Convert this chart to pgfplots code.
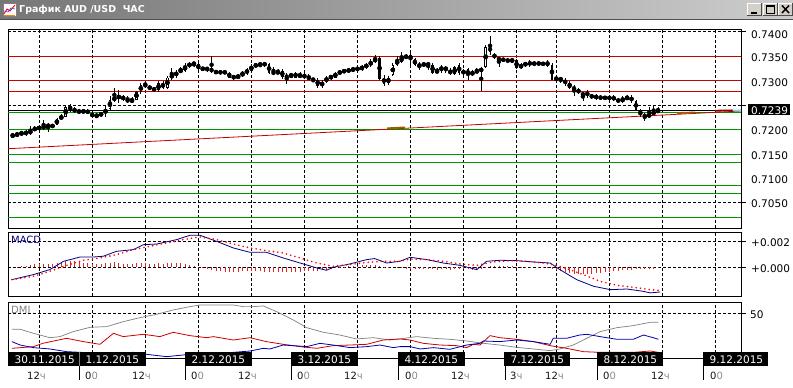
\documentclass[border=0pt]{standalone}
\usepackage{fontspec}
\setmainfont{DejaVu Sans}
\usepackage{pgfplots}
\pgfplotsset{compat=1.18}
\usepackage{pgfplotstable}

\definecolor{lvred}{RGB}{200,0,0}
\definecolor{lvgreen}{RGB}{0,150,0}
\definecolor{macdblue}{RGB}{0,0,128}
\definecolor{dmiblue}{RGB}{0,0,170}
\definecolor{dmired}{RGB}{205,0,0}
\definecolor{dmigray}{RGB}{128,128,128}
\definecolor{brn}{RGB}{160,90,0}
\definecolor{cy}{RGB}{120,220,230}
\definecolor{tbl}{RGB}{118,118,118}
\definecolor{tbr}{RGB}{205,205,205}
\definecolor{tbline}{RGB}{80,80,80}
\definecolor{btn}{RGB}{212,208,200}
\definecolor{hdark}{RGB}{20,20,20}
\definecolor{hgray}{RGB}{140,140,140}
\definecolor{histred}{RGB}{215,40,40}

% bullish candles: i O H L C
\pgfplotstableread{
i O H L C
-15 0.7186 0.7193 0.7183 0.7188
-14 0.7188 0.7194 0.7186 0.7190
-13 0.7190 0.7197 0.7188 0.7193
-11 0.7190 0.7207 0.7188 0.7199
-10 0.7199 0.7206 0.7197 0.7202
-9 0.7202 0.7207 0.7199 0.7204
-8 0.7200 0.7219 0.7199 0.7209
-6 0.7204 0.7212 0.7202 0.7210
-5 0.7210 0.7223 0.7209 0.7221
-4 0.7221 0.7231 0.7219 0.7227
-3 0.7226 0.7250 0.7225 0.7245
1 0.7236 0.7241 0.7233 0.7237
4 0.7226 0.7234 0.7223 0.7229
5 0.7229 0.7236 0.7225 0.7233
6 0.7233 0.7250 0.7226 0.7240
7 0.7241 0.7268 0.7238 0.7260
8 0.7260 0.7284 0.7257 0.7265
9 0.7265 0.7280 0.7253 0.7267
12 0.7257 0.7267 0.7253 0.7260
13 0.7261 0.7279 0.7260 0.7277
14 0.7277 0.7295 0.7272 0.7291
18 0.7280 0.7298 0.7277 0.7294
20 0.7285 0.7309 0.7283 0.7306
21 0.7306 0.7325 0.7302 0.7311
22 0.7309 0.7321 0.7306 0.7318
23 0.7318 0.7328 0.7315 0.7321
24 0.7320 0.7336 0.7318 0.7330
25 0.7330 0.7338 0.7325 0.7334
26 0.7334 0.7338 0.7328 0.7335
28 0.7323 0.7328 0.7320 0.7325
36 0.7306 0.7313 0.7304 0.7309
37 0.7309 0.7320 0.7308 0.7316
38 0.7316 0.7325 0.7311 0.7321
39 0.7320 0.7334 0.7318 0.7330
40 0.7330 0.7336 0.7325 0.7332
41 0.7332 0.7336 0.7327 0.7334
45 0.7315 0.7323 0.7313 0.7318
48 0.7308 0.7316 0.7306 0.7311
50 0.7308 0.7318 0.7304 0.7311
55 0.7291 0.7301 0.7284 0.7295
56 0.7298 0.7309 0.7294 0.7306
57 0.7306 0.7311 0.7302 0.7308
58 0.7306 0.7318 0.7304 0.7315
59 0.7315 0.7321 0.7311 0.7318
60 0.7318 0.7323 0.7315 0.7320
61 0.7320 0.7325 0.7316 0.7321
62 0.7321 0.7328 0.7318 0.7323
63 0.7323 0.7328 0.7320 0.7324
64 0.7324 0.7332 0.7320 0.7327
65 0.7327 0.7336 0.7324 0.7332
66 0.7332 0.7343 0.7328 0.7338
67 0.7338 0.7352 0.7336 0.7345
70 0.7294 0.7309 0.7291 0.7306
71 0.7311 0.7335 0.7309 0.7332
72 0.7332 0.7350 0.7330 0.7342
73 0.7338 0.7359 0.7336 0.7349
78 0.7330 0.7338 0.7328 0.7335
81 0.7316 0.7325 0.7315 0.7321
82 0.7321 0.7332 0.7315 0.7328
85 0.7313 0.7330 0.7311 0.7327
87 0.7316 0.7323 0.7311 0.7318
89 0.7311 0.7321 0.7309 0.7318
91 0.7318 0.7328 0.7279 0.7325
92 0.7327 0.7372 0.7325 0.7369
98 0.7340 0.7345 0.7336 0.7342
100 0.7326 0.7336 0.7323 0.7332
101 0.7332 0.7338 0.7328 0.7335
108 0.7302 0.7308 0.7300 0.7304
120 0.7264 0.7268 0.7260 0.7265
123 0.7257 0.7268 0.7255 0.7263
124 0.7263 0.7270 0.7260 0.7265
129 0.7226 0.7246 0.7223 0.7231
130 0.7231 0.7248 0.7229 0.7236
131 0.7236 0.7246 0.7233 0.7239
}\upbars

% bearish / doji candles: i O H L C
\pgfplotstableread{
i O H L C
-12 0.7195 0.7199 0.7187 0.7190
-7 0.7211 0.7214 0.7195 0.7204
-2 0.7245 0.7252 0.7236 0.7241
-1 0.7241 0.7245 0.7233 0.7238
0 0.7238 0.7241 0.7231 0.7236
2 0.7237 0.7241 0.7231 0.7235
3 0.7234 0.7236 0.7223 0.7225
10 0.7268 0.7270 0.7259 0.7260
11 0.7261 0.7268 0.7255 0.7257
15 0.7293 0.7298 0.7286 0.7287
16 0.7287 0.7291 0.7280 0.7283
17 0.7284 0.7287 0.7277 0.7280
19 0.7294 0.7298 0.7283 0.7285
27 0.7333 0.7336 0.7321 0.7323
29 0.7325 0.7328 0.7318 0.7323
30 0.7325 0.7349 0.7315 0.7317
31 0.7318 0.7321 0.7313 0.7317
32 0.7317 0.7321 0.7313 0.7316
33 0.7317 0.7321 0.7313 0.7316
34 0.7316 0.7318 0.7304 0.7306
35 0.7308 0.7311 0.7302 0.7306
42 0.7334 0.7338 0.7328 0.7333
43 0.7333 0.7336 0.7313 0.7316
44 0.7316 0.7328 0.7311 0.7315
46 0.7320 0.7323 0.7304 0.7308
47 0.7308 0.7315 0.7293 0.7308
49 0.7316 0.7318 0.7304 0.7306
51 0.7311 0.7315 0.7302 0.7308
52 0.7309 0.7313 0.7300 0.7301
53 0.7301 0.7306 0.7298 0.7300
54 0.7302 0.7306 0.7284 0.7289
68 0.7347 0.7349 0.7301 0.7304
69 0.7306 0.7311 0.7289 0.7293
74 0.7349 0.7355 0.7343 0.7347
75 0.7352 0.7359 0.7332 0.7343
76 0.7343 0.7345 0.7330 0.7332
77 0.7332 0.7338 0.7321 0.7330
79 0.7335 0.7338 0.7321 0.7332
80 0.7332 0.7335 0.7313 0.7315
83 0.7328 0.7330 0.7316 0.7321
84 0.7321 0.7325 0.7311 0.7313
86 0.7332 0.7336 0.7311 0.7315
88 0.7323 0.7325 0.7302 0.7311
90 0.7318 0.7325 0.7315 0.7318
93 0.7369 0.7390 0.7352 0.7359
94 0.7355 0.7357 0.7343 0.7345
95 0.7345 0.7349 0.7328 0.7343
96 0.7343 0.7347 0.7338 0.7342
97 0.7342 0.7345 0.7336 0.7340
99 0.7342 0.7343 0.7323 0.7325
102 0.7335 0.7342 0.7328 0.7335
103 0.7335 0.7338 0.7330 0.7335
104 0.7335 0.7338 0.7332 0.7334
105 0.7334 0.7338 0.7330 0.7334
106 0.7338 0.7342 0.7328 0.7330
107 0.7332 0.7336 0.7300 0.7302
109 0.7304 0.7308 0.7294 0.7302
110 0.7302 0.7306 0.7289 0.7292
111 0.7294 0.7298 0.7283 0.7285
112 0.7285 0.7291 0.7268 0.7283
113 0.7282 0.7284 0.7272 0.7275
114 0.7274 0.7277 0.7257 0.7270
115 0.7277 0.7280 0.7265 0.7268
116 0.7268 0.7272 0.7263 0.7267
117 0.7267 0.7272 0.7261 0.7265
118 0.7265 0.7270 0.7260 0.7265
119 0.7265 0.7268 0.7261 0.7264
121 0.7268 0.7270 0.7257 0.7259
122 0.7261 0.7265 0.7253 0.7257
125 0.7267 0.7270 0.7255 0.7257
126 0.7258 0.7260 0.7238 0.7240
127 0.7238 0.7241 0.7225 0.7231
128 0.7229 0.7233 0.7218 0.7226
}\downbars

\pgfplotsset{
  panel/.style={scale only axis, width=733pt, anchor=south west,
    xmin=-16.06, xmax=149.77,
    axis line style={line width=0.9pt},
    xtick={-9,3,15,27,39,51,63,75,87,99,108,120,132,144},
    xticklabels={}, yticklabels={}, scaled y ticks=false,
    tick style={draw=none},
    xmajorgrids, ymajorgrids,
    grid style={black, line width=0.6pt, dash pattern=on 3pt off 2pt}},
  wick/.style={only marks, mark=none,
    error bars/.cd, y dir=both, y explicit, error mark=none,
    error bar style={black, line width=0.75pt}},
  bodyblack/.style={only marks, mark=none,
    error bars/.cd, y dir=both, y explicit, error mark=none,
    error bar style={black, line width=2.5pt}},
  bodywhite/.style={only marks, mark=none,
    error bars/.cd, y dir=both, y explicit, error mark=none,
    error bar style={white, line width=0.9pt}}
}

\newcommand\lf{\fontsize{10.5}{12}\selectfont}
\newcommand\hf{\fontsize{10}{12}\selectfont}

\begin{document}
\begin{tikzpicture}
\useasboundingbox (0,0) rectangle (793pt,388pt);
\fill[white] (0,0) rectangle (793pt,388pt);

% ---------------- main price panel ----------------
\begin{axis}[panel, at={(8pt,160pt)}, height=199pt,
  ymin=0.69983, ymax=0.74052, ytick={0.7050,0.7250,0.7400}]
% resistance levels
\addplot[lvred, line width=0.8pt] coordinates {(-16.06,0.7350) (149.77,0.7350)};
\addplot[lvred, line width=0.8pt] coordinates {(-16.06,0.7300) (149.77,0.7300)};
\addplot[lvred, line width=0.8pt] coordinates {(-16.06,0.72784) (149.77,0.72784)};
% support levels
\addplot[lvgreen, line width=0.9pt] coordinates {(-16.06,0.72355) (149.77,0.72355)};
\addplot[lvgreen, line width=0.9pt] coordinates {(-16.06,0.72007) (149.77,0.72007)};
\addplot[lvgreen, line width=0.9pt] coordinates {(-16.06,0.71490) (149.77,0.71490)};
\addplot[lvgreen, line width=0.9pt] coordinates {(-16.06,0.71326) (149.77,0.71326)};
\addplot[lvgreen, line width=0.9pt] coordinates {(-16.06,0.70862) (149.77,0.70862)};
\addplot[lvgreen, line width=0.9pt] coordinates {(-16.06,0.70692) (149.77,0.70692)};
\addplot[lvgreen, line width=0.9pt] coordinates {(-16.06,0.70201) (149.77,0.70201)};
% current price
\addplot[black, line width=0.8pt] coordinates {(-16.06,0.7239) (149.77,0.7239)};
% trend line
\addplot[lvred, line width=0.8pt] coordinates {(-16.06,0.71604) (149.77,0.72375)};
\addplot[brn, line width=1.8pt] coordinates {(69.7,0.72021) (73.8,0.72040)};
\addplot[brn, line width=1.8pt] coordinates {(135.3,0.72334) (139.4,0.72345)};
\addplot[lvred!70!black, line width=1.8pt] coordinates {(143.9,0.72381) (147.9,0.72388)};
\addplot[cy, line width=1.8pt] coordinates {(147.9,0.72385) (149.77,0.72388)};
% candles
\addplot[wick] table[x=i, y expr={(\thisrow{H}+\thisrow{L})/2}, y error expr={(\thisrow{H}-\thisrow{L})/2}] {\upbars};
\addplot[wick] table[x=i, y expr={(\thisrow{H}+\thisrow{L})/2}, y error expr={(\thisrow{H}-\thisrow{L})/2}] {\downbars};
\addplot[bodyblack] table[x=i, y expr={(\thisrow{O}+\thisrow{C})/2}, y error expr={max(abs(\thisrow{C}-\thisrow{O})/2,0.00008)}] {\downbars};
\addplot[bodyblack] table[x=i, y expr={(\thisrow{O}+\thisrow{C})/2}, y error expr={max(abs(\thisrow{C}-\thisrow{O})/2,0.00008)}] {\upbars};
\addplot[bodywhite] table[x=i, y expr={(\thisrow{O}+\thisrow{C})/2}, y error expr={max(abs(\thisrow{C}-\thisrow{O})/2-0.00018,0)}] {\upbars};
\end{axis}

% ---------------- MACD panel ----------------
\begin{axis}[panel, at={(8pt,92pt)}, height=64pt,
  ymin=-0.002208, ymax=0.002715, ytick={0,0.002}]
\addplot[ycomb, histred, line width=0.7pt] coordinates {
(-14,0.00005) (-13,0.00008) (-12,0.00012) (-11,0.00018) (-10,0.00022) (-9,0.00026) (-8,0.00028) (-7,0.00026) (-6,0.00028) (-5,0.00033)
(-4,0.00041) (-3,0.00049) (-2,0.00051) (-1,0.00046) (0,0.00041) (1,0.00036) (2,0.00033) (3,0.00028) (4,0.00026) (5,0.00028)
(6,0.00031) (7,0.00036) (8,0.00038) (9,0.00033) (10,0.00028) (11,0.00026) (12,0.00028) (13,0.00033) (14,0.00036) (15,0.00031)
(16,0.00028) (17,0.00026) (18,0.00031) (19,0.00028) (20,0.00033) (21,0.00036) (22,0.00033) (23,0.00031) (24,0.00026) (25,0.00018)
(26,0.00010) (27,0.00003) (28,-0.00005) (29,-0.00013) (30,-0.00020) (31,-0.00026) (32,-0.00031) (33,-0.00033) (34,-0.00036) (35,-0.00036)
(36,-0.00033) (37,-0.00031) (38,-0.00028) (39,-0.00026) (40,-0.00028) (41,-0.00031) (42,-0.00033) (43,-0.00036) (44,-0.00038) (45,-0.00036)
(46,-0.00036) (47,-0.00033) (48,-0.00033) (49,-0.00036) (50,-0.00033) (51,-0.00031) (52,-0.00031) (53,-0.00028) (54,-0.00028) (55,-0.00023)
(56,-0.00018) (57,-0.00010) (58,-0.00003) (59,0.00003) (60,0.00005) (61,0.00008) (62,0.00010) (63,0.00013) (64,0.00015) (65,0.00018)
(66,0.00018) (67,0.00015) (68,0.00010) (69,0.00005) (70,0.00003) (72,-0.00003) (73,-0.00008) (74,-0.00010) (75,-0.00013) (76,-0.00015)
(77,-0.00015) (78,-0.00013) (79,-0.00013) (80,-0.00015) (81,-0.00018) (82,-0.00015) (83,-0.00015) (84,-0.00018) (85,-0.00015) (86,-0.00015)
(87,-0.00013) (88,-0.00015) (89,-0.00018) (90,-0.00020) (91,-0.00010) (92,0.00005) (93,0.00010) (94,0.00013) (95,0.00013) (96,0.00010)
(97,0.00008) (98,0.00008) (99,0.00005) (100,0.00003) (101,0.00005) (102,0.00003) (104,-0.00003) (105,-0.00005) (106,-0.00008) (107,-0.00013)
(108,-0.00020) (109,-0.00028) (110,-0.00036) (111,-0.00046) (112,-0.00051) (113,-0.00054) (114,-0.00054) (115,-0.00051) (116,-0.00049) (117,-0.00046)
(118,-0.00041) (119,-0.00036) (120,-0.00033) (121,-0.00028) (122,-0.00026) (123,-0.00023) (124,-0.00020) (125,-0.00018) (126,-0.00015) (127,-0.00013)
(128,-0.00013) (129,-0.00010) (130,-0.00010) (131,-0.00008)};
\addplot[macdblue, line width=0.8pt] coordinates {
(-15.2,-0.00095) (-10.3,-0.00056) (-6.6,-0.00018) (-3.5,0.00046) (-2.0,0.00059) (0.2,0.00079) (3.2,0.00079) (5.5,0.00085)
(8.5,0.00123) (12.3,0.00136) (14.6,0.00174) (17.6,0.00179) (22.1,0.00213) (25.1,0.00246) (27.4,0.00246) (31.1,0.00200)
(34.9,0.00149) (38.7,0.00115) (42.4,0.00115) (46.2,0.00072) (50.0,0.00033) (53.8,-0.00005) (56.0,-0.00023) (57.5,0.00000)
(61.3,0.00026) (65.1,0.00059) (66.9,0.00067) (69.6,0.00033) (72.6,0.00046) (74.9,0.00077) (78.7,0.00059) (82.4,0.00033)
(86.2,0.00015) (90.0,-0.00018) (92.2,0.00046) (95.3,0.00054) (99.0,0.00051) (102.8,0.00041) (106.6,0.00033) (108.8,-0.00018)
(112.6,-0.00095) (116.4,-0.00146) (120.2,-0.00172) (124.0,-0.00167) (127.7,-0.00185) (129.2,-0.00197) (131.5,-0.00190)};
\addplot[red, line width=1.8pt, line cap=round, dash pattern=on 0pt off 4.4pt] coordinates {
(-15.2,-0.00095) (-10.3,-0.00069) (-6.6,-0.00031) (-2.8,0.00015) (1.0,0.00054) (4.75,0.00072) (8.5,0.00097) (12.3,0.00136)
(16.1,0.00162) (19.8,0.00187) (23.6,0.00213) (27.4,0.00233) (31.1,0.00213) (34.9,0.00179) (38.7,0.00149) (42.4,0.00128)
(46.2,0.00110) (50.0,0.00072) (53.8,0.00033) (57.5,0.00008) (61.3,0.00021) (65.1,0.00038) (68.8,0.00046) (72.6,0.00046)
(74.9,0.00064) (78.7,0.00059) (82.4,0.00046) (86.2,0.00026) (90.0,0.00015) (93.7,0.00041) (97.5,0.00051) (101.3,0.00046)
(105.0,0.00033) (108.1,0.00015) (110.3,-0.00010) (114.1,-0.00056) (117.9,-0.00108) (121.7,-0.00138) (125.4,-0.00154) (129.2,-0.00172)
(131.5,-0.00179)};
\end{axis}

% ---------------- DMI panel ----------------
\begin{axis}[panel, at={(8pt,30pt)}, height=56pt,
  ymin=0, ymax=62.6, ytick={50}]
\addplot[dmigray, line width=0.7pt] coordinates {
(-15.2,32.1) (-13.3,32.1) (-10.3,27.6) (-6.6,22.7) (-4.3,23.9) (-1.3,29.5) (2.5,34.3) (6.3,35.1) (10.0,40.6) (13.8,45.1)
(17.6,48.9) (21.3,53.7) (25.1,57.4) (27.4,59.3) (31.1,59.3) (34.9,59.3) (37.2,57.4) (39.4,57.4) (41.7,58.2) (44.7,51.8)
(48.5,42.5) (51.5,33.9) (55.3,28.7) (59.0,25.7) (62.8,21.3) (66.6,22.7) (70.4,20.1) (72.6,21.3) (76.4,23.9) (80.2,22.0)
(83.9,20.9) (87.7,19.0) (91.5,16.4) (95.2,14.5) (99.0,11.9) (102.8,10.1) (106.6,8.2) (108.8,10.1) (111.8,14.5) (114.9,22.0)
(117.9,29.5) (121.7,33.9) (125.4,36.2) (129.2,39.9) (131.1,39.9)};
\addplot[dmired, line width=0.8pt] coordinates {
(-15.2,10.8) (-10.3,12.7) (-8.2,16.4) (-2.8,22.0) (1.0,18.3) (4.75,15.3) (7.8,27.6) (10.0,23.9) (14.6,26.5) (18.3,23.9)
(21.3,28.7) (25.1,25.0) (28.9,22.7) (30.4,23.9) (34.9,20.1) (38.7,22.7) (42.4,18.3) (46.2,15.3) (50.0,12.7) (53.8,10.8)
(57.5,13.8) (61.3,14.5) (65.1,15.3) (68.8,20.1) (72.6,21.3) (74.9,20.1) (77.9,16.4) (81.7,14.5) (85.4,13.8) (87.7,11.6)
(89.2,15.3) (90.7,14.5) (93.0,25.0) (95.2,22.7) (99.0,20.9) (102.8,18.3) (106.6,13.8) (110.3,10.8) (114.1,7.1) (117.9,6.3)
(121.7,6.3) (125.4,6.3) (129.2,7.8) (131.1,6.3)};
\addplot[dmiblue, line width=0.8pt] coordinates {
(-15.2,18.3) (-13.3,14.5) (-10.3,11.6) (-6.6,10.1) (-2.8,7.1) (4.75,5.2) (12.3,6.3) (15.3,4.1) (19.8,1.5) (23.6,3.4)
(27.4,5.2) (31.1,5.2) (34.9,6.3) (38.7,7.8) (41.7,10.8) (43.2,10.1) (46.2,14.5) (48.5,13.8) (51.5,12.7) (54.5,16.4)
(57.5,14.5) (61.3,11.6) (65.1,12.7) (68.1,14.5) (71.1,11.6) (72.6,12.7) (74.9,12.7) (77.2,10.1) (80.2,11.6) (83.9,9.7)
(87.7,14.5) (90.7,16.4) (91.5,19.0) (95.2,18.3) (99.0,20.1) (102.8,18.3) (106.6,15.3) (107.3,22.0) (110.3,22.0) (113.3,25.7)
(114.9,26.5) (117.9,23.9) (121.7,20.9) (125.4,20.9) (127.7,25.7) (129.9,22.7) (131.1,20.9)};
\end{axis}

% ---------------- window chrome, labels ----------------
\begin{scope}[shift={(0pt,388pt)}, x=1pt, y=-1pt]
% title bar
\shade[left color=tbl, right color=tbr] (0,0) rectangle (793,19);
\fill[tbline] (0,18.6) rectangle (793,20);
% icon
\fill[white] (3,3) rectangle (16,16);
\draw[gray, line width=0.6] (3,3) rectangle (16,16);
\draw[red, line width=0.9] (4,14) -- (7,9) -- (10,11) -- (15,5);
\draw[blue!70!white, line width=0.7] (4,11) -- (8,12) -- (11,8) -- (15,9);
\draw[orange, line width=0.7] (4,15) -- (15,15);
\node[anchor=west, inner sep=0, text=white, font=\bfseries\fontsize{9.5}{11}\selectfont] at (19,10) {График AUD /USD\ \ ЧАС};
% buttons
\foreach \bx in {747,763,778} {
  \fill[btn] (\bx,3) rectangle (\bx+15,16);
  \draw[white, line width=0.8] (\bx+0.4,15.6) -- (\bx+0.4,3.4) -- (\bx+14.6,3.4);
  \draw[gray!60!black, line width=0.8] (\bx+0.4,15.6) -- (\bx+14.6,15.6) -- (\bx+14.6,3.4);
}
\draw[black, line width=1.6] (751,13) -- (757,13);
\draw[black, line width=0.8] (766.5,5.5) rectangle (774.5,13.5);
\draw[black, line width=1.6] (766.5,6) -- (774.5,6);
\draw[black, line width=1.5] (782,5.5) -- (789,13);
\draw[black, line width=1.5] (789,5.5) -- (782,13);

% price scale
\foreach \yy/\tt in {34.3/0.7400, 57.7/0.7350, 82.3/0.7300, 131/0.7200, 156/0.7150, 180/0.7100, 204/0.7050} {
  \node[anchor=west, inner sep=0, font=\lf] at (751,\yy) {\tt};
}
\foreach \yy in {31.6,104.9,202.7} {\draw[black, line width=0.7] (741,\yy) -- (746,\yy);}
\fill[black] (748,104.5) rectangle (790,115.5);
\node[anchor=west, inner sep=0, font=\lf, text=white] at (751,110.2) {0.7239};

% MACD scale
\node[anchor=west, inner sep=0, font=\lf] at (751,243) {+0.002};
\node[anchor=west, inner sep=0, font=\lf] at (751,268.7) {+0.000};
\foreach \yy in {241.3,267.3} {\draw[black, line width=0.7] (741,\yy) -- (746,\yy);}
\node[anchor=west, inner sep=0, font=\fontsize{10}{12}\selectfont, text=macdblue] at (11,240) {MACD};

% DMI scale
\node[anchor=west, inner sep=0, font=\lf] at (750,315) {50};
\draw[black, line width=0.7] (741,313.3) -- (746,313.3);
\node[anchor=west, inner sep=0, font=\fontsize{10}{12}\selectfont, text=dmigray] at (11,310) {DMI};

% date boxes
\foreach \xa/\xb/\dd in {8/79/30.11.2015, 79/146/1.12.2015, 185/252/2.12.2015, 291/358/3.12.2015, 398/465/4.12.2015, 504/570/7.12.2015, 597/663/8.12.2015, 703/768/9.12.2015} {
  \fill[black] (\xa,352) rectangle (\xb,366);
  \node[anchor=west, inner sep=0, font=\lf, text=white] at (\xa+6.5,359.2) {\dd};
}
\draw[gray, line width=0.6] (79,352) -- (79,366);
\foreach \xs in {79,185,291,398,505,597,703} {\draw[black, line width=0.9] (\xs,366) -- (\xs,380);}
% hour labels
\foreach \xh/\hh in {27/12, 132/12, 238/12, 344/12, 451/12, 545/12, 651/12} {
  \node[anchor=west, inner sep=0, font=\hf] at (\xh,376) {\textcolor{hdark}{\hh}\textcolor{hgray}{ч}};
}
\foreach \xh in {85,191,297,405,603,710} {
  \node[anchor=west, inner sep=0, font=\hf] at (\xh,376) {\textcolor{hdark}{0}\textcolor{hgray}{0}};
}
\node[anchor=west, inner sep=0, font=\hf] at (510,376) {\textcolor{hdark}{3}\textcolor{hgray}{ч}};
\end{scope}
\end{tikzpicture}
\end{document}
